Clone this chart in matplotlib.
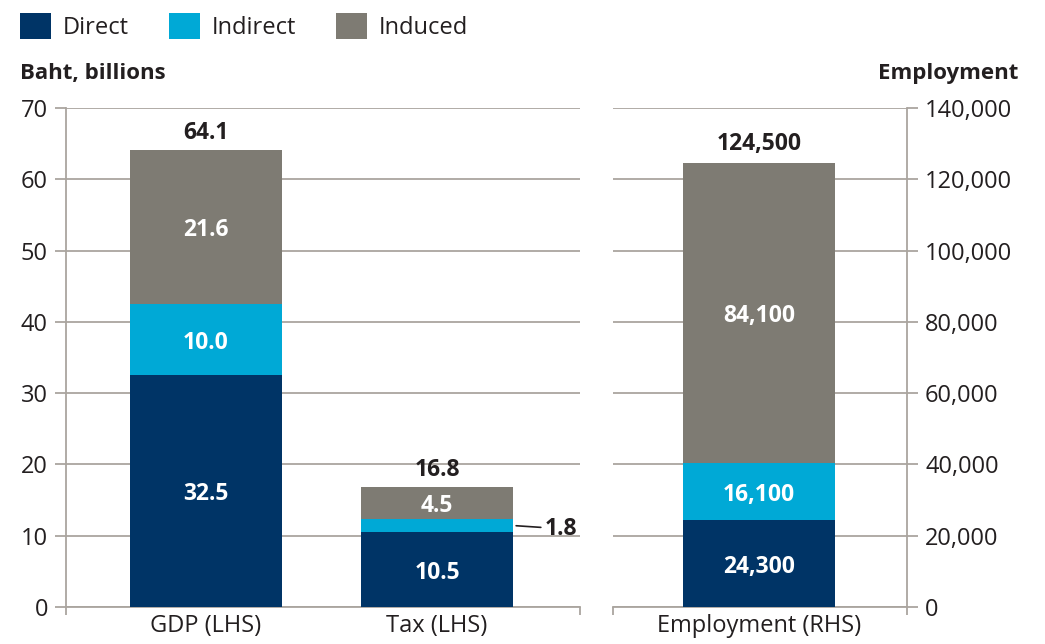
import matplotlib
matplotlib.use("Agg")
import matplotlib.pyplot as plt
from matplotlib.patches import Patch

plt.rcParams['font.family'] = ['Open Sans', 'DejaVu Sans']

# data
series = ["Direct", "Indirect", "Induced"]
colors = ["#003466", "#00a9d6", "#7e7b73"]

left_cats = ["GDP (LHS)", "Tax (LHS)"]
left_vals = {
    "Direct": [32.5, 10.5],
    "Indirect": [10.0, 1.8],
    "Induced": [21.6, 4.5],
}
left_totals = [64.1, 16.8]

right_cats = ["Employment (RHS)"]
right_vals = {
    "Direct": [24300],
    "Indirect": [16100],
    "Induced": [84100],
}
right_totals = [124500]

grid_c = "#aaa59f"
text_c = "#231f20"
w = 0.655

fig = plt.figure(figsize=(10.45, 6.44), dpi=100)
axl = fig.add_axes([66 / 1045, 37 / 644, 514 / 1045, 499 / 644])
axr = fig.add_axes([613 / 1045, 37 / 644, 294 / 1045, 499 / 644])


def style(ax):
    ax.set_axisbelow(True)
    ax.yaxis.grid(True, color=grid_c, linewidth=1.3)
    for s in ax.spines.values():
        s.set_color(grid_c)
        s.set_linewidth(1.3)
    ax.spines['top'].set_visible(False)
    ax.tick_params(axis='y', colors=grid_c, labelcolor=text_c, length=8,
                   width=1.3, labelsize=17, pad=5)
    ax.tick_params(axis='x', length=0, labelsize=17, labelcolor=text_c, pad=5)


def stack(ax, cats, vals, totals, fmt, pad):
    x = list(range(len(cats)))
    bottom = [0] * len(cats)
    for name, c in zip(series, colors):
        v = vals[name]
        ax.bar(x, v, width=w, bottom=bottom, color=c, zorder=3)
        for i, (b, h) in enumerate(zip(bottom, v)):
            if name == "Indirect" and h < 3:
                continue
            ax.text(x[i], b + h / 2, fmt(h), ha='center', va='center_baseline',
                    color='white', fontsize=16.5, fontweight='bold', zorder=4)
        bottom = [b + h for b, h in zip(bottom, v)]
    for i, t in enumerate(totals):
        ax.text(x[i], bottom[i] + pad, fmt(t), ha='center', va='bottom',
                color=text_c, fontsize=16.5, fontweight='bold')
    ax.set_xticks(x)
    ax.set_xticklabels(cats)


stack(axl, left_cats, left_vals, left_totals, lambda v: f"{v:.1f}", 0.7)
stack(axr, right_cats, right_vals, right_totals, lambda v: f"{v:,.0f}", 2000)

# small Tax indirect label with leader
tax_ind = left_vals["Indirect"][1]
y_ind = left_vals["Direct"][1] + tax_ind / 2
axl.annotate(f"{tax_ind:.1f}", xy=(1 + w / 2 + 0.015, y_ind),
             xytext=(1 + w / 2 + 0.14, y_ind), ha='left', va='center_baseline',
             fontsize=16.5, fontweight='bold', color=text_c,
             arrowprops=dict(arrowstyle='-', color=text_c, lw=1.2,
                             shrinkA=1, shrinkB=0))

axl.set_xlim(-0.606, 1.619)
axl.set_ylim(0, 70)
axl.set_yticks(range(0, 71, 10))
axl.spines['right'].set_visible(False)
style(axl)

axr.set_xlim(-0.632, 0.641)
axr.set_ylim(0, 140000)
axr.set_yticks(range(0, 140001, 20000))
axr.set_yticklabels([f"{v:,}" for v in range(0, 140001, 20000)])
axr.yaxis.tick_right()
axr.spines['left'].set_visible(False)
style(axr)

# end ticks on the baselines
for ax in (axl, axr):
    lo, hi = ax.get_xlim()
    ax.set_xticks([lo, hi], minor=True)
    ax.tick_params(axis='x', which='minor', length=6, width=1.3,
                   color=grid_c, direction='out')

fig.text(20 / 1045, 1 - 73 / 644, "Baht, billions", ha='left', va='center',
         fontsize=16, fontweight='bold', color=text_c)
fig.text(1018 / 1045, 1 - 73 / 644, "Employment", ha='right', va='center',
         fontsize=16, fontweight='bold', color=text_c)

handles = [Patch(facecolor=c, label=s) for s, c in zip(series, colors)]
leg = fig.legend(handles=handles, loc='upper left',
                 bbox_to_anchor=(11 / 1045, 1 - 4 / 644), ncol=3, frameon=False,
                 fontsize=17, handlelength=1.3, handleheight=1.3,
                 handletextpad=0.5, columnspacing=1.7, borderaxespad=0)
for t in leg.get_texts():
    t.set_color(text_c)

fig.savefig("out.png", dpi=100)
